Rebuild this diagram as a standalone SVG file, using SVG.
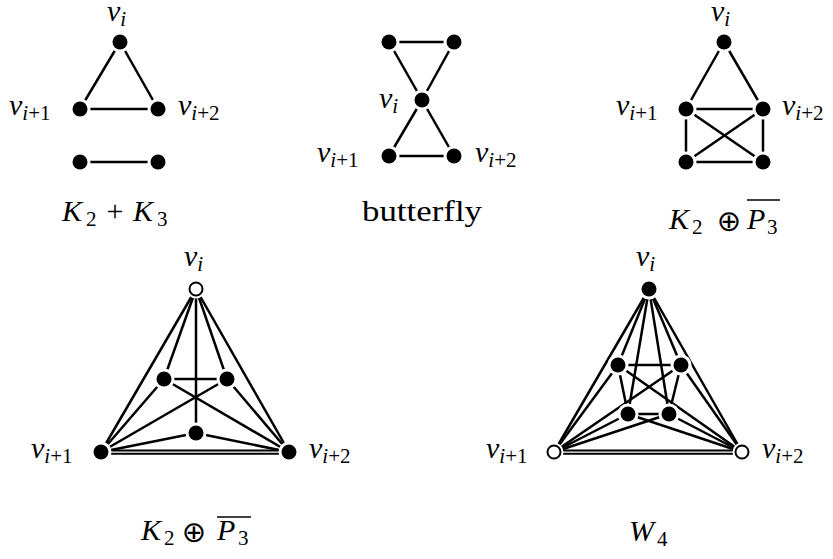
<svg xmlns="http://www.w3.org/2000/svg" width="833" height="559" viewBox="0 0 833 559">
<style>
.e{stroke:#000;stroke-width:2.5;fill:none;stroke-linecap:butt}
.e2{stroke:#000;stroke-width:2;fill:none}
.ring{fill:#fff;stroke:none}
.n{fill:#000}
.o{fill:#fff;stroke:#000;stroke-width:2}
text{font-family:"Liberation Serif","DejaVu Serif",serif;font-size:30px;fill:#000}
.it{font-style:italic}
.sb{font-size:21px}
.op{font-family:"DejaVu Sans",sans-serif;font-size:29px}
.ov{stroke:#000;stroke-width:1.5}
</style>
<rect width="833" height="559" fill="#fff"/>
<g id="connectors">
<!-- panel 1 -->
<line class="e" x1="120" y1="42" x2="80" y2="109"/>
<line class="e" x1="120" y1="42" x2="158" y2="109"/>
<line class="e" x1="80" y1="109" x2="158" y2="109"/>
<line class="e" x1="80" y1="162" x2="158" y2="162"/>
<!-- panel 2 -->
<line class="e" x1="389" y1="42" x2="454" y2="42"/>
<line class="e" x1="389" y1="42" x2="422" y2="100"/>
<line class="e" x1="454" y1="42" x2="422" y2="100"/>
<line class="e" x1="422" y1="100" x2="389" y2="156"/>
<line class="e" x1="422" y1="100" x2="454" y2="156"/>
<line class="e" x1="389" y1="156" x2="454" y2="156"/>
<!-- panel 3 -->
<line class="e" x1="724" y1="42" x2="686" y2="109"/>
<line class="e" x1="724" y1="42" x2="763" y2="109"/>
<line class="e" x1="686" y1="109" x2="763" y2="109"/>
<line class="e" x1="686" y1="109" x2="686" y2="162"/>
<line class="e" x1="763" y1="109" x2="763" y2="162"/>
<line class="e" x1="686" y1="162" x2="763" y2="162"/>
<line class="e" x1="686" y1="109" x2="763" y2="162"/>
<line class="e" x1="763" y1="109" x2="686" y2="162"/>
<!-- panel 4 -->
<line class="e" x1="196" y1="289" x2="101" y2="452"/>
<line class="e" x1="196" y1="289" x2="289" y2="452"/>
<line class="e" x1="196" y1="289" x2="164" y2="379"/>
<line class="e" x1="196" y1="289" x2="227" y2="379"/>
<line class="e" x1="164" y1="379" x2="227" y2="379"/>
<line class="e" x1="196" y1="289" x2="196" y2="433"/>
<line class="e" x1="101" y1="452" x2="164" y2="379"/>
<line class="e" x1="101" y1="452" x2="227" y2="379"/>
<line class="e" x1="101" y1="452" x2="196" y2="433"/>
<line class="e" x1="289" y1="452" x2="164" y2="379"/>
<line class="e" x1="289" y1="452" x2="227" y2="379"/>
<line class="e" x1="289" y1="452" x2="196" y2="433"/>
<line class="e2" x1="101" y1="450.4" x2="289" y2="450.4"/>
<line class="e2" x1="101" y1="453.8" x2="289" y2="453.8"/>
<!-- panel 5 -->
<line class="e" x1="649" y1="289" x2="554" y2="452"/>
<line class="e" x1="649" y1="289" x2="742" y2="452"/>
<line class="e" x1="649" y1="289" x2="618" y2="365"/>
<line class="e" x1="649" y1="289" x2="681" y2="365"/>
<line class="e" x1="649" y1="289" x2="628" y2="414"/>
<line class="e" x1="649" y1="289" x2="669" y2="414"/>
<line class="e" x1="618" y1="365" x2="681" y2="365"/>
<line class="e" x1="618" y1="365" x2="628" y2="414"/>
<line class="e" x1="681" y1="365" x2="669" y2="414"/>
<line class="e" x1="628" y1="414" x2="669" y2="414"/>
<line class="e" x1="554" y1="452" x2="618" y2="365"/>
<line class="e" x1="554" y1="452" x2="681" y2="365"/>
<line class="e" x1="554" y1="452" x2="628" y2="414"/>
<line class="e" x1="554" y1="452" x2="669" y2="414"/>
<line class="e" x1="742" y1="452" x2="618" y2="365"/>
<line class="e" x1="742" y1="452" x2="681" y2="365"/>
<line class="e" x1="742" y1="452" x2="628" y2="414"/>
<line class="e" x1="742" y1="452" x2="669" y2="414"/>
<line class="e2" x1="554" y1="450.4" x2="742" y2="450.4"/>
<line class="e2" x1="554" y1="453.8" x2="742" y2="453.8"/>
</g>
<!-- panel 1 nodes -->
<g id="p1-vi"><circle class="ring" cx="120" cy="42" r="10.5"/><circle class="n" cx="120" cy="42" r="7.5"/></g>
<g id="p1-vi1"><circle class="ring" cx="80" cy="109" r="10.5"/><circle class="n" cx="80" cy="109" r="7.5"/></g>
<g id="p1-vi2"><circle class="ring" cx="158" cy="109" r="10.5"/><circle class="n" cx="158" cy="109" r="7.5"/></g>
<g id="p1-a"><circle class="ring" cx="80" cy="162" r="10.5"/><circle class="n" cx="80" cy="162" r="7.5"/></g>
<g id="p1-b"><circle class="ring" cx="158" cy="162" r="10.5"/><circle class="n" cx="158" cy="162" r="7.5"/></g>
<!-- panel 2 nodes -->
<g id="p2-t1"><circle class="ring" cx="389" cy="42" r="10.5"/><circle class="n" cx="389" cy="42" r="7.5"/></g>
<g id="p2-t2"><circle class="ring" cx="454" cy="42" r="10.5"/><circle class="n" cx="454" cy="42" r="7.5"/></g>
<g id="p2-vi"><circle class="ring" cx="422" cy="100" r="10.5"/><circle class="n" cx="422" cy="100" r="7.5"/></g>
<g id="p2-vi1"><circle class="ring" cx="389" cy="156" r="10.5"/><circle class="n" cx="389" cy="156" r="7.5"/></g>
<g id="p2-vi2"><circle class="ring" cx="454" cy="156" r="10.5"/><circle class="n" cx="454" cy="156" r="7.5"/></g>
<!-- panel 3 nodes -->
<g id="p3-vi"><circle class="ring" cx="724" cy="42" r="10.5"/><circle class="n" cx="724" cy="42" r="7.5"/></g>
<g id="p3-vi1"><circle class="ring" cx="686" cy="109" r="10.5"/><circle class="n" cx="686" cy="109" r="7.5"/></g>
<g id="p3-vi2"><circle class="ring" cx="763" cy="109" r="10.5"/><circle class="n" cx="763" cy="109" r="7.5"/></g>
<g id="p3-a"><circle class="ring" cx="686" cy="162" r="10.5"/><circle class="n" cx="686" cy="162" r="7.5"/></g>
<g id="p3-b"><circle class="ring" cx="763" cy="162" r="10.5"/><circle class="n" cx="763" cy="162" r="7.5"/></g>
<!-- panel 4 nodes -->
<g id="p4-vi"><circle class="ring" cx="196" cy="289" r="9.5"/><circle class="o" cx="196" cy="289" r="6.5"/></g>
<g id="p4-vi1"><circle class="ring" cx="101" cy="452" r="10.5"/><circle class="n" cx="101" cy="452" r="7.5"/></g>
<g id="p4-vi2"><circle class="ring" cx="289" cy="452" r="10.5"/><circle class="n" cx="289" cy="452" r="7.5"/></g>
<g id="p4-a"><circle class="ring" cx="164" cy="379" r="10.5"/><circle class="n" cx="164" cy="379" r="7.5"/></g>
<g id="p4-b"><circle class="ring" cx="227" cy="379" r="10.5"/><circle class="n" cx="227" cy="379" r="7.5"/></g>
<g id="p4-c"><circle class="ring" cx="196" cy="433" r="10.5"/><circle class="n" cx="196" cy="433" r="7.5"/></g>
<!-- panel 5 nodes -->
<g id="p5-vi"><circle class="ring" cx="649" cy="289" r="10.5"/><circle class="n" cx="649" cy="289" r="7.5"/></g>
<g id="p5-vi1"><circle class="ring" cx="554" cy="452" r="9.5"/><circle class="o" cx="554" cy="452" r="6.5"/></g>
<g id="p5-vi2"><circle class="ring" cx="742" cy="452" r="9.5"/><circle class="o" cx="742" cy="452" r="6.5"/></g>
<g id="p5-a"><circle class="ring" cx="618" cy="365" r="10.5"/><circle class="n" cx="618" cy="365" r="7.5"/></g>
<g id="p5-b"><circle class="ring" cx="681" cy="365" r="10.5"/><circle class="n" cx="681" cy="365" r="7.5"/></g>
<g id="p5-c"><circle class="ring" cx="628" cy="414" r="10.5"/><circle class="n" cx="628" cy="414" r="7.5"/></g>
<g id="p5-d"><circle class="ring" cx="669" cy="414" r="10.5"/><circle class="n" cx="669" cy="414" r="7.5"/></g>
<g id="labels">
<!-- panel 1 -->
<text x="107" y="21"><tspan class="it">v</tspan><tspan class="it sb" dy="5">i</tspan></text>
<text x="9" y="115"><tspan class="it">v</tspan><tspan class="it sb" dy="5">i</tspan><tspan class="sb">+1</tspan></text>
<text x="178" y="115"><tspan class="it">v</tspan><tspan class="it sb" dy="5">i</tspan><tspan class="sb">+2</tspan></text>
<text x="62" y="221" class="it">K</text><text x="86" y="226" class="sb">2</text>
<text x="115" y="221" text-anchor="middle">+</text>
<text x="133" y="221" class="it">K</text><text x="157" y="226" class="sb">3</text>
<!-- panel 2 -->
<text x="379" y="108"><tspan class="it">v</tspan><tspan class="it sb" dy="5">i</tspan></text>
<text x="317" y="162"><tspan class="it">v</tspan><tspan class="it sb" dy="5">i</tspan><tspan class="sb">+1</tspan></text>
<text x="475" y="162"><tspan class="it">v</tspan><tspan class="it sb" dy="5">i</tspan><tspan class="sb">+2</tspan></text>
<text x="362" y="221" textLength="120" lengthAdjust="spacingAndGlyphs">butterfly</text>
<!-- panel 3 -->
<text x="711" y="21"><tspan class="it">v</tspan><tspan class="it sb" dy="5">i</tspan></text>
<text x="616" y="115"><tspan class="it">v</tspan><tspan class="it sb" dy="5">i</tspan><tspan class="sb">+1</tspan></text>
<text x="782" y="115"><tspan class="it">v</tspan><tspan class="it sb" dy="5">i</tspan><tspan class="sb">+2</tspan></text>
<text x="669" y="229" class="it">K</text><text x="692" y="234" class="sb">2</text>
<text x="729" y="231" class="op" text-anchor="middle">⊕</text>
<text x="747" y="229" class="it">P</text><text x="767" y="234" class="sb">3</text>
<line class="ov" x1="747" y1="200" x2="780" y2="200"/>
<!-- panel 4 -->
<text x="184" y="266"><tspan class="it">v</tspan><tspan class="it sb" dy="5">i</tspan></text>
<text x="31" y="458"><tspan class="it">v</tspan><tspan class="it sb" dy="5">i</tspan><tspan class="sb">+1</tspan></text>
<text x="309" y="458"><tspan class="it">v</tspan><tspan class="it sb" dy="5">i</tspan><tspan class="sb">+2</tspan></text>
<text x="141" y="540" class="it">K</text><text x="164" y="545" class="sb">2</text>
<text x="194" y="542" class="op" text-anchor="middle">⊕</text>
<text x="217" y="540" class="it">P</text><text x="238" y="545" class="sb">3</text>
<line class="ov" x1="217" y1="517" x2="251" y2="517"/>
<!-- panel 5 -->
<text x="636" y="266"><tspan class="it">v</tspan><tspan class="it sb" dy="5">i</tspan></text>
<text x="486" y="458"><tspan class="it">v</tspan><tspan class="it sb" dy="5">i</tspan><tspan class="sb">+1</tspan></text>
<text x="762" y="458"><tspan class="it">v</tspan><tspan class="it sb" dy="5">i</tspan><tspan class="sb">+2</tspan></text>
<text x="629" y="541" class="it">W</text><text x="657" y="546" class="sb">4</text>
</g>
</svg>
